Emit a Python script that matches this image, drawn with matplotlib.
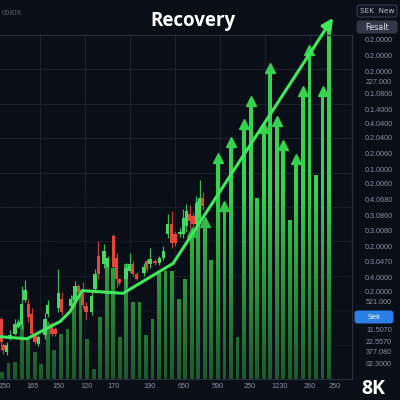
import numpy as np
import matplotlib
matplotlib.use("Agg")
import matplotlib.pyplot as plt
from matplotlib.patches import FancyBboxPatch

# --- data -----------------------------------------------------------------
bar_values = [2, 4.7, 5, 15.8, 11.7, 7.9, 4.4, 16.7, 8.5, 13.2, 14.6, 24, 24,
              11.7, 2.9, 18.1, 33.3, 32.2, 12.3, 33.3, 22.5, 22.5, 12.9, 17.3,
              30.7, 31.3, 31.3, 23.4, 29, 43.9, 51.8, 46.8, 34.5, 65.5, 51.5,
              70.2, 12.3, 75.4, 82.2, 52.6, 74.3, 91.8, 76.3, 69.3, 46.2, 65.2,
              85.1, 96.8, 59.4, 85.1, 102]
arrow_bars = [29, 31, 33, 34, 35, 37, 38, 40, 41, 42, 43, 45, 46, 47, 49]

candle_x = [-0.15, 0.2, 0.72, 1.22, 1.99, 2.5, 3.01, 3.52, 4.02, 4.54, 5.05,
            5.55, 6.57, 6.99, 7.6, 8.1, 8.61, 9.13, 10.5, 11.16, 11.67, 12.34,
            12.84, 13.71, 14.22, 14.73, 15.6, 16.17, 17.02, 17.54, 17.93,
            18.96, 19.57, 19.98, 20.6, 21.7, 22.1, 22.6, 23.4, 24.05, 24.67,
            25.3, 25.95, 26.45, 27.2, 27.7, 28.2, 28.7, 29.2, 29.7, 30.2, 30.65]
candle_open = [17.5, 9.9, 7.9, 11.7, 13.2, 15.2, 15.8, 23.1, 21.9, 19.0, 12.9,
               10.2, 12.9, 19.0, 16.1, 14.6, 20.5, 23.4, 21.1, 23.1, 26.9, 25.4,
               21.1, 19.6, 26.3, 35.7, 33.3, 32.7, 41.5, 35.1, 29.0, 29.0, 31.3,
               33.3, 30.4, 30.7, 34.2, 33.3, 34.2, 33.6, 35.1, 42.1, 45.0, 42.1,
               42.1, 42.1, 44.4, 47.9, 47.3, 45.0, 46.8, 52.6]
candle_close = [10.8, 8.5, 9.9, 12.9, 16.1, 16.7, 21.9, 26.0, 18.1, 13.2, 10.8,
                12.3, 17.3, 21.6, 13.2, 13.2, 24.9, 19.6, 23.4, 26.9, 25.4, 21.6,
                19.6, 24.0, 30.4, 30.4, 37.1, 35.1, 32.7, 29.2, 27.8, 32.2, 33.3,
                30.4, 29.2, 32.7, 31.9, 34.8, 33.6, 35.1, 37.1, 45.0, 39.5, 39.5,
                42.4, 46.8, 48.8, 45.9, 45.0, 51.2, 52.6, 50.3]
candle_high = [18.1, 10.5, 10.8, 14.3, 17.3, 17.5, 26.9, 28.9, 23.4, 20.5, 13.5,
               12.9, 19.3, 23.1, 16.7, 15.2, 31.9, 25.4, 24.3, 28.4, 27.5, 28.1,
               22.5, 25.4, 31.9, 40.1, 39.2, 35.7, 42.1, 36.5, 29.5, 33.6, 36.5,
               34.2, 31.0, 33.6, 34.8, 38.0, 34.8, 35.7, 38.6, 48.0, 48.8, 43.0,
               43.9, 49.4, 50.9, 50.6, 48.2, 53.2, 57.9, 54.4]
candle_low = [8.5, 7.3, 7.0, 11.4, 12.9, 14.9, 14.6, 22.5, 16.7, 12.9, 10.2,
              9.6, 11.7, 18.1, 12.6, 12.6, 19.6, 18.7, 20.5, 22.5, 24.9, 20.5,
              17.5, 18.7, 25.4, 29.2, 32.2, 32.2, 32.2, 26.6, 27.2, 26.6, 31.0,
              29.8, 28.7, 29.8, 31.3, 32.2, 33.0, 33.0, 34.5, 40.9, 38.0, 38.6,
              41.2, 40.9, 42.7, 43.9, 44.1, 43.6, 45.0, 49.1]

trend_x = [-0.31, 3.82, 8.87, 10.4, 12.23, 18.5, 26.15]
trend_y = [12.3, 11.7, 16.7, 19.6, 25.7, 24.9, 33.6]
trend_tip = (50.6, 105.0)

x_labels = ["150", "165", "150", "120", "170", "190", "650", "590", "250",
            "1230", "260", "250"]
x_label_pos = [0.46, 4.6, 8.6, 13.0, 17.0, 22.5, 27.8, 33.0, 37.9, 42.4, 47.1, 50.8]

right_labels = ["0.2.0000", "0.2.0000", "0.2.0000", "227.000", "0.1.0800",
                "0.1.4000", "0.4.0400", "0.2.0400", "0.2.0060", "0.1.0000",
                "0.2.0060", "0.4.0680", "0.3.0860", "0.3.0080", "0.2.0000",
                "0.3.0470", "0.4.0000", "0.2.0000", "521.000", "11.5070",
                "22.5570", "377.080", "02.3000"]
right_label_px = [41, 57, 73, 82, 95, 110, 124, 138, 154, 170, 185, 200, 217,
                  232, 247, 263, 278, 293, 303, 331, 342, 353, 365]

# --- style ----------------------------------------------------------------
BG = '#0a0e17'
GRID = '#1b2130'
BAR = '#36d24d'
UP = '#45d85f'
DOWN = '#e4463a'
LINE = '#3fe85c'
LABEL = '#8790a2'

fig = plt.figure(figsize=(4, 4), dpi=100, facecolor=BG)
ax = fig.add_axes([0, 0.0525, 0.88, 0.86])
ax.set_facecolor(BG)

XMIN, XMAX = -0.31, 53.5

for gx in [5.81, 12.69, 19.57, 26.45, 33.3, 40.2, 47.1]:
    ax.axvline(gx, color=GRID, lw=0.8, zorder=0)
for gy in [10, 20, 30, 40, 50, 60, 70, 80, 90]:
    ax.axhline(gy, color=GRID, lw=0.8, zorder=0)

# growth bars, some capped with arrow heads
idx = np.arange(len(bar_values))
vals = np.array(bar_values, dtype=float)
head = 2.6
tops = vals.copy()
tops[arrow_bars] = vals[arrow_bars] - head / 2
ax.bar(idx, tops, width=0.58, color=BAR, zorder=2, clip_on=False)
ax.plot(idx[arrow_bars], vals[arrow_bars] - head / 2, ls='none', marker='^',
        ms=7, color=BAR, mec=BAR, zorder=2.5)

# darken lower part of the bars
grad = np.zeros((200, 2, 4))
grad[..., :3] = matplotlib.colors.to_rgb(BG)
grad[..., 3] = np.linspace(0.62, 0, 200)[:, None]
ax.imshow(grad, extent=[XMIN, XMAX, 0, 55], origin='lower', aspect='auto',
          zorder=3, interpolation='bilinear')

# candles
for x, o, c, h, l in zip(candle_x, candle_open, candle_close, candle_high, candle_low):
    col = UP if c >= o else DOWN
    ax.vlines(x, l, h, color=col, lw=0.9, alpha=0.85, zorder=4)
    ax.bar(x, max(abs(c - o), 0.6), bottom=min(o, c), width=0.5, color=col,
           zorder=4.5)

# trend line with arrow
ax.plot(trend_x, trend_y, color=LINE, lw=2.2, solid_capstyle='round', zorder=6)
ax.annotate('', xy=trend_tip, xytext=(trend_x[-1], trend_y[-1]),
            arrowprops=dict(arrowstyle='-|>', color=LINE, lw=2.2,
                            mutation_scale=17, shrinkA=0, shrinkB=0),
            annotation_clip=False, zorder=6)

ax.set_xlim(XMIN, XMAX)
ax.set_ylim(0, 100)
ax.set_xticks(x_label_pos)
ax.set_xticklabels(x_labels)
ax.tick_params(axis='x', length=0, colors=LABEL, labelsize=5.3, pad=3)
for t in ax.get_xticklabels():
    t.set_family('Liberation Sans')
ax.set_yticks([])
ax.spines['left'].set_visible(False)
for s in ['top', 'right', 'bottom']:
    ax.spines[s].set_color('#272e3d')
    ax.spines[s].set_linewidth(0.9)

# right-hand price column
for txt, py in zip(right_labels, right_label_px):
    fig.text(379 / 400, 1 - py / 400, txt, ha='center', va='center',
             fontsize=5.2, color=LABEL, family='Liberation Sans')


def boxed(x0, y0, w, h, txt, face, edge, tcol, size):
    fig.patches.append(FancyBboxPatch((x0 / 400, 1 - (y0 + h) / 400), w / 400, h / 400,
                                      boxstyle='round,pad=0,rounding_size=0.006',
                                      transform=fig.transFigure, facecolor=face,
                                      edgecolor=edge, lw=0.7))
    fig.text((x0 + w / 2) / 400, 1 - (y0 + h / 2) / 400, txt, ha='center',
             va='center', fontsize=size, color=tcol, family='DejaVu Sans')


boxed(355, 311, 38, 12, 'Sek', '#2d7fe8', '#2d7fe8', 'white', 5.2)
boxed(357, 5, 40, 12, 'SEK  New', '#0f1420', '#3a4152', '#b9bfcb', 5.2)
boxed(357, 21, 40, 12, 'Fesalt', '#323848', '#323848', '#dde1e8', 5.8)

fig.text(193 / 400, 1 - 26 / 400, 'Recovery', ha='center', va='baseline',
         fontsize=13.5, fontweight='bold', color='white', family='Open Sans')
fig.text(373 / 400, 1 - 389 / 400, '8K', ha='center', va='center',
         fontsize=14, fontweight='bold', color='white', family='Open Sans')
fig.text(2 / 400, 1 - 13 / 400, '00ЮX', ha='left', va='center', fontsize=4.8,
         color='#5d6575', family='DejaVu Sans')

fig.savefig('out.png', dpi=100, facecolor=BG)
